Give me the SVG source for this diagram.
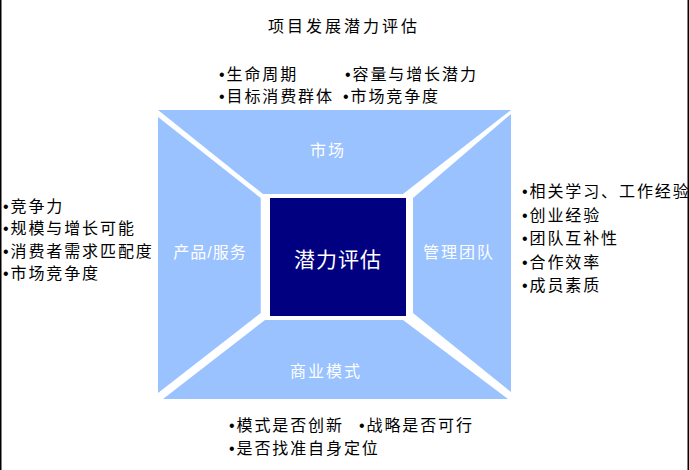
<svg xmlns="http://www.w3.org/2000/svg" width="689" height="470" viewBox="0 0 689 470">
<style>
.t{font-family:"Liberation Sans","Noto Sans CJK SC",sans-serif;font-size:16px;fill:#000;letter-spacing:1.9px}
.w{font-family:"Liberation Sans","Noto Sans CJK SC",sans-serif;font-size:16px;fill:#fff;letter-spacing:2px;text-anchor:middle}
.p{fill:#99C2FF}
</style>
<rect width="689" height="470" fill="#fff"/>
<g id="frame">
<rect x="0" y="0" width="1.5" height="470" fill="#000"/>
<rect x="687.5" y="0" width="1.5" height="470" fill="#000"/>
</g>
<text id="title" class="t" x="344" y="32" text-anchor="middle" style="letter-spacing:3px">项目发展潜力评估</text>
<g id="market">
<polygon class="p" points="158,110 511,110 403,194 263,194"/>
<text class="w" x="328" y="156">市场</text>
</g>
<g id="product">
<polygon class="p" points="158,117 260.7,198 260.7,313 158,393"/>
<text class="w" x="210" y="258" style="letter-spacing:1px">产品/服务</text>
</g>
<g id="team">
<polygon class="p" points="511,114 511,392 413,313 413,198"/>
<text class="w" x="459" y="258">管理团队</text>
</g>
<g id="business">
<polygon class="p" points="163,399 508,399 403,320 265,320"/>
<text class="w" x="326" y="377">商业模式</text>
</g>
<g id="core">
<rect x="270" y="198" width="136" height="118" fill="#000080"/>
<text x="338" y="267" text-anchor="middle" style="font-family:'Liberation Sans','Noto Sans CJK SC',sans-serif;font-size:21px;fill:#fff;letter-spacing:1px">潜力评估</text>
</g>
<g id="market-notes">
<text class="t" x="219" y="80">•生命周期</text>
<text class="t" x="345" y="80">•容量与增长潜力</text>
<text class="t" x="219" y="102">•目标消费群体</text>
<text class="t" x="343" y="102">•市场竞争度</text>
</g>
<g id="product-notes">
<text class="t" x="3" y="212">•竞争力</text>
<text class="t" x="3" y="234">•规模与增长可能</text>
<text class="t" x="3" y="257">•消费者需求匹配度</text>
<text class="t" x="3" y="279">•市场竞争度</text>
</g>
<g id="team-notes">
<text class="t" x="522" y="197">•相关学习、工作经验</text>
<text class="t" x="522" y="221">•创业经验</text>
<text class="t" x="522" y="244">•团队互补性</text>
<text class="t" x="522" y="268">•合作效率</text>
<text class="t" x="522" y="291">•成员素质</text>
</g>
<g id="business-notes">
<text class="t" x="229" y="431">•模式是否创新</text>
<text class="t" x="359" y="431">•战略是否可行</text>
<text class="t" x="229" y="454">•是否找准自身定位</text>
</g>
<g id="connectors"/>
</svg>
